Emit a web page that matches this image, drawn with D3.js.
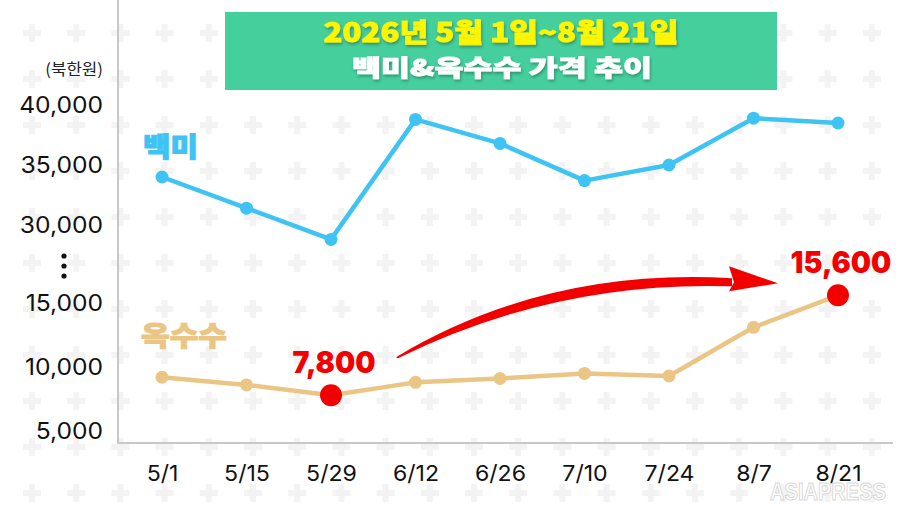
<!DOCTYPE html>
<html>
<head>
<meta charset="utf-8">
<script src="https://cdn.jsdelivr.net/npm/d3@7"></script>
<style>
  body { margin: 0; background: #fff; }
  svg { display: block; }
</style>
</head>
<body>
<div id="chart"></div>
<script>
// data (북한원)
var dates = ["5/1", "5/15", "5/29", "6/12", "6/26", "7/10", "7/24", "8/7", "8/21"];
var rice = [34000, 31400, 28800, 38800, 36800, 33700, 35000, 38900, 38500];
var corn = [9200, 8600, 7800, 8800, 9100, 9500, 9300, 13100, 15600];
var riceTicks = [30000, 35000, 40000];
var cornTicks = [5000, 10000, 15000];
var highlights = [{date: "5/29", value: 7800}, {date: "8/21", value: 15600}];

var W = 900, H = 510;
var axisX = 118, axisY = 443;

var svg = d3.select("#chart")
  .append("svg")
    .attr("width", W)
    .attr("height", H);

// widen text a bit, the original font is broader than what we have
function stretch(sel, k) {
  sel.each(function() {
    var l = this.getComputedTextLength();
    d3.select(this).attr("textLength", l * k).attr("lengthAdjust", "spacingAndGlyphs");
  });
}

// faint plus-sign pattern in background
var bg = svg.append("g").attr("fill", "#f3f3f3");
d3.range(0, 21).forEach(function(i) {
  d3.range(0, 11).forEach(function(j) {
    var cx = 32 + i * 44.2, cy = 33 + j * 46;
    bg.append("path")
      .attr("d", "M" + (cx - 3) + "," + (cy - 9) + "h6v6h6v6h-6v6h-6v-6h-6v-6h6z");
  });
});

// scales: one x, two y segments (broken axis)
var x = d3.scalePoint()
  .domain(dates)
  .range([162, 838]);

var yTop = d3.scaleLinear()
  .domain([30000, 40000])
  .range([225, 105]);

var yBot = d3.scaleLinear()
  .domain([5000, 15000])
  .range([431, 303]);

// axis lines
svg.append("line")
  .attr("x1", axisX).attr("x2", axisX)
  .attr("y1", 0).attr("y2", axisY)
  .attr("stroke", "#c8c8c8").attr("stroke-width", 2);
svg.append("line")
  .attr("x1", axisX - 1).attr("x2", 893)
  .attr("y1", axisY).attr("y2", axisY)
  .attr("stroke", "#c8c8c8").attr("stroke-width", 2);

// y tick labels
function yAxis(scale, ticks) {
  var g = svg.append("g")
    .attr("transform", "translate(103,0)")
    .call(d3.axisLeft(scale).tickValues(ticks).tickSize(0).tickPadding(0).tickFormat(d3.format(",")));
  g.select(".domain").remove();
  g.selectAll("text")
    .attr("font-family", "Inter, 'Noto Sans', sans-serif")
    .attr("font-size", 23)
    .attr("fill", "#111")
    .call(stretch, 1.07);
}
yAxis(yTop, riceTicks);
yAxis(yBot, cornTicks);

// break marks between the two segments
svg.selectAll(".brk")
  .data([0, 1, 2])
  .enter().append("circle")
    .attr("cx", 64)
    .attr("cy", function(d) { return 256 + d * 10; })
    .attr("r", 2.6)
    .attr("fill", "#111");

// unit
svg.append("text")
  .attr("x", 103).attr("y", 75)
  .attr("text-anchor", "end")
  .attr("font-family", "'Noto Sans CJK KR', sans-serif")
  .attr("font-size", 16)
  .attr("fill", "#222")
  .text("(북한원)")
  .call(stretch, 1.05);

// x axis labels
var xg = svg.append("g")
  .attr("transform", "translate(0," + axisY + ")")
  .call(d3.axisBottom(x).tickSize(0).tickPadding(22));
xg.select(".domain").remove();
xg.selectAll("text")
  .attr("font-family", "Inter, 'Noto Sans', sans-serif")
  .attr("font-size", 22)
  .attr("fill", "#111")
  .call(stretch, 1.05);

// lines
function drawSeries(values, scale, color) {
  var pts = dates.map(function(d, i) { return [x(d), scale(values[i])]; });
  svg.append("path")
    .attr("d", d3.line()(pts))
    .attr("fill", "none")
    .attr("stroke", color)
    .attr("stroke-width", 4.5)
    .attr("stroke-linejoin", "round");
  svg.append("g").selectAll("circle")
    .data(pts)
    .enter().append("circle")
      .attr("cx", function(p) { return p[0]; })
      .attr("cy", function(p) { return p[1]; })
      .attr("r", 6.5)
      .attr("fill", color);
}
drawSeries(rice, yTop, "#3fc3f3");
drawSeries(corn, yBot, "#eac584");

// series names
svg.append("text")
  .attr("x", x(dates[0]) - 19).attr("y", yTop(rice[0]) - 20)
  .attr("font-family", "'Noto Sans CJK KR', sans-serif")
  .attr("font-weight", 900).attr("font-size", 27)
  .attr("fill", "#3fc3f3")
  .attr("stroke", "#3fc3f3").attr("stroke-width", 1)
  .attr("textLength", 55).attr("lengthAdjust", "spacingAndGlyphs")
  .text("백미");
svg.append("text")
  .attr("x", x(dates[0]) - 21).attr("y", yBot(corn[0]) - 31)
  .attr("font-family", "'Noto Sans CJK KR', sans-serif")
  .attr("font-weight", 900).attr("font-size", 27)
  .attr("fill", "#eac584")
  .attr("stroke", "#eac584").attr("stroke-width", 1)
  .attr("textLength", 86).attr("lengthAdjust", "spacingAndGlyphs")
  .text("옥수수");

// red arrow between the highlighted points
var a = highlights[0], b = highlights[1];
var sx = x(a.date) + 65, sy = yBot(a.value) - 38;
var ex = x(b.date) - 60, ey = yBot(b.value) - 12;
var hx = ex - 46;
var arrow = d3.path();
arrow.moveTo(sx, sy);
arrow.quadraticCurveTo(sx + 150, ey - 16, hx, ey - 5);
arrow.lineTo(hx, ey + 3);
arrow.quadraticCurveTo(sx + 160, ey - 3, sx + 2, sy + 1);
arrow.closePath();
svg.append("path").attr("d", arrow.toString()).attr("fill", "#f20000");
var head = d3.path();
head.moveTo(hx - 3, ey - 17);
head.lineTo(ex, ey);
head.lineTo(hx - 3, ey + 8);
head.lineTo(hx + 2, ey - 1);
head.closePath();
svg.append("path").attr("d", head.toString()).attr("fill", "#f20000");

// highlighted points and labels
svg.append("g").selectAll("circle")
  .data(highlights)
  .enter().append("circle")
    .attr("cx", function(d) { return x(d.date); })
    .attr("cy", function(d) { return yBot(d.value); })
    .attr("r", 11)
    .attr("fill", "#f20000");
svg.append("g").selectAll("text")
  .data(highlights)
  .enter().append("text")
    .attr("x", function(d) { return x(d.date) + 3; })
    .attr("y", function(d) { return yBot(d.value) - 22; })
    .attr("text-anchor", "middle")
    .attr("font-family", "Inter, 'Noto Sans', sans-serif")
    .attr("font-weight", 900).attr("font-size", 30)
    .attr("fill", "#f20000")
    .text(function(d) { return d3.format(",")(d.value); })
    .call(stretch, 0.95);

// title box
svg.append("rect")
  .attr("x", 225).attr("y", 12)
  .attr("width", 552).attr("height", 78)
  .attr("fill", "#45cf9d");
var defs = svg.append("defs");
var f = defs.append("filter").attr("id", "sh").attr("x", "-10%").attr("y", "-30%").attr("width", "120%").attr("height", "160%");
f.append("feDropShadow").attr("dx", 1).attr("dy", 2).attr("stdDeviation", 1.5)
  .attr("flood-color", "#000").attr("flood-opacity", 0.3);
svg.append("text")
  .attr("x", 501).attr("y", 42)
  .attr("text-anchor", "middle")
  .attr("font-family", "'Noto Sans CJK KR', sans-serif")
  .attr("font-weight", 900).attr("font-size", 26)
  .attr("fill", "#fff500")
  .attr("stroke", "#fff500").attr("stroke-width", 0.8)
  .attr("textLength", 355).attr("lengthAdjust", "spacingAndGlyphs")
  .attr("filter", "url(#sh)")
  .text("2026년 5월 1일~8월 21일");
svg.append("text")
  .attr("x", 502).attr("y", 76)
  .attr("text-anchor", "middle")
  .attr("font-family", "'Noto Sans CJK KR', sans-serif")
  .attr("font-weight", 900).attr("font-size", 23)
  .attr("fill", "#fff")
  .attr("stroke", "#fff").attr("stroke-width", 0.8)
  .attr("textLength", 300).attr("lengthAdjust", "spacingAndGlyphs")
  .attr("filter", "url(#sh)")
  .text("백미&옥수수 가격 추이");

// watermark
svg.append("text")
  .attr("x", 828).attr("y", 500)
  .attr("text-anchor", "middle")
  .attr("font-family", "'Liberation Sans Narrow', 'Liberation Sans', sans-serif")
  .attr("font-weight", 700).attr("font-size", 23)
  .attr("textLength", 116)
  .attr("lengthAdjust", "spacingAndGlyphs")
  .attr("fill", "#fff")
  .attr("stroke", "#d8d8d8").attr("stroke-width", 1)
  .text("ASIAPRESS");
</script>
</body>
</html>
